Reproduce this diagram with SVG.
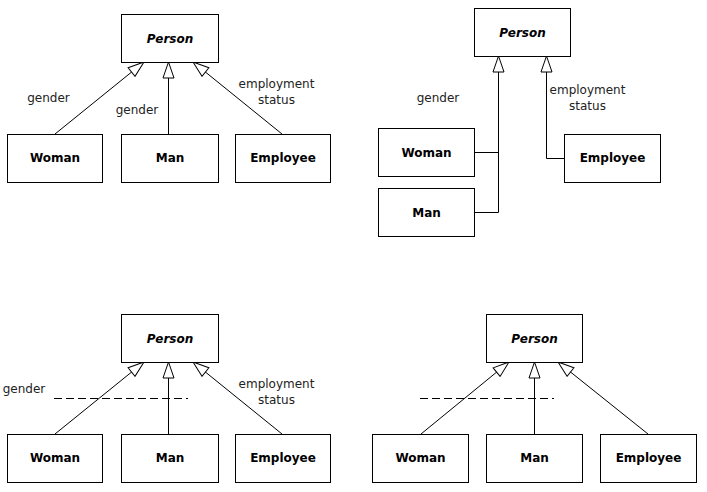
<svg xmlns="http://www.w3.org/2000/svg" width="707" height="492" viewBox="0 0 707 492">
<defs>
<marker id="gen" markerUnits="userSpaceOnUse" markerWidth="18" markerHeight="13" refX="17" refY="6" orient="auto" viewBox="0 0 18 12">
<path d="M1,0.5 L17,6 L1,11.5 Z" fill="#fff" stroke="#000" stroke-width="1"/>
</marker>
<style>
.box{fill:#fff;stroke:#000;stroke-width:1}
.name{font-family:"DejaVu Sans",Verdana,sans-serif;font-size:12px;font-weight:bold;text-anchor:middle;fill:#000}
.abs{font-style:italic}
.lbl{font-family:"DejaVu Sans",Verdana,sans-serif;font-size:12px;fill:#222;text-anchor:middle}
.ln{fill:none;stroke:#000;stroke-width:1}
.gl{marker-end:url(#gen)}
.dash{fill:none;stroke:#000;stroke-width:1;stroke-dasharray:8,4}
</style>
</defs>
<rect width="707" height="492" fill="#fff"/>

<g id="connectors">
<!-- diagram 1 -->
<line class="ln gl" x1="55" y1="134" x2="144" y2="62"/>
<line class="ln gl" x1="168.5" y1="134" x2="168.5" y2="62"/>
<line class="ln gl" x1="282" y1="134" x2="193" y2="62"/>
<!-- diagram 2 -->
<polyline class="ln" points="474,152.5 498.5,152.5"/>
<polyline class="ln gl" points="474,212.5 498.5,212.5 498.5,56"/>
<polyline class="ln gl" points="564,158.5 546.5,158.5 546.5,56"/>
<!-- diagram 3 -->
<line class="ln gl" x1="55" y1="434" x2="144" y2="362"/>
<line class="ln gl" x1="168.5" y1="434" x2="168.5" y2="362"/>
<line class="ln gl" x1="282" y1="434" x2="193" y2="362"/>
<line class="dash" x1="54" y1="398.5" x2="188" y2="398.5"/>
<!-- diagram 4 -->
<line class="ln gl" x1="421" y1="434" x2="509" y2="362"/>
<line class="ln gl" x1="534.5" y1="434" x2="534.5" y2="362"/>
<line class="ln gl" x1="648" y1="434" x2="558" y2="362"/>
<line class="dash" x1="420" y1="398.5" x2="554" y2="398.5"/>
</g>

<g id="labels">
<text class="lbl" x="48.5" y="102">gender</text>
<text class="lbl" x="137" y="114">gender</text>
<text class="lbl" x="276.5" y="88">employment</text>
<text class="lbl" x="276.5" y="103.5">status</text>
<text class="lbl" x="438" y="102">gender</text>
<text class="lbl" x="587.5" y="94">employment</text>
<text class="lbl" x="587.5" y="110">status</text>
<text class="lbl" x="24" y="393">gender</text>
<text class="lbl" x="276.5" y="388">employment</text>
<text class="lbl" x="276.5" y="403.5">status</text>
</g>

<g id="d1-person"><rect class="box" x="121.5" y="14.5" width="97" height="48"/><text class="name abs" x="170" y="42.5">Person</text></g>
<g id="d1-woman"><rect class="box" x="7.5" y="134.5" width="95" height="48"/><text class="name" x="55" y="162">Woman</text></g>
<g id="d1-man"><rect class="box" x="121.5" y="134.5" width="97" height="48"/><text class="name" x="170" y="162">Man</text></g>
<g id="d1-employee"><rect class="box" x="235.5" y="134.5" width="95" height="48"/><text class="name" x="283" y="162">Employee</text></g>

<g id="d2-person"><rect class="box" x="474.5" y="8.5" width="96" height="48"/><text class="name abs" x="522.5" y="36.5">Person</text></g>
<g id="d2-woman"><rect class="box" x="378.5" y="128.5" width="96" height="48"/><text class="name" x="426.5" y="156.5">Woman</text></g>
<g id="d2-man"><rect class="box" x="378.5" y="188.5" width="96" height="48"/><text class="name" x="426.5" y="216.5">Man</text></g>
<g id="d2-employee"><rect class="box" x="564.5" y="134.5" width="96" height="48"/><text class="name" x="612.5" y="162">Employee</text></g>

<g id="d3-person"><rect class="box" x="121.5" y="314.5" width="97" height="48"/><text class="name abs" x="170" y="342.5">Person</text></g>
<g id="d3-woman"><rect class="box" x="7.5" y="434.5" width="95" height="48"/><text class="name" x="55" y="462">Woman</text></g>
<g id="d3-man"><rect class="box" x="121.5" y="434.5" width="97" height="48"/><text class="name" x="170" y="462">Man</text></g>
<g id="d3-employee"><rect class="box" x="235.5" y="434.5" width="95" height="48"/><text class="name" x="283" y="462">Employee</text></g>

<g id="d4-person"><rect class="box" x="486.5" y="314.5" width="96" height="48"/><text class="name abs" x="534.5" y="342.5">Person</text></g>
<g id="d4-woman"><rect class="box" x="372.5" y="434.5" width="96" height="48"/><text class="name" x="420.5" y="462">Woman</text></g>
<g id="d4-man"><rect class="box" x="486.5" y="434.5" width="96" height="48"/><text class="name" x="534.5" y="462">Man</text></g>
<g id="d4-employee"><rect class="box" x="600.5" y="434.5" width="96" height="48"/><text class="name" x="648.5" y="462">Employee</text></g>
</svg>
